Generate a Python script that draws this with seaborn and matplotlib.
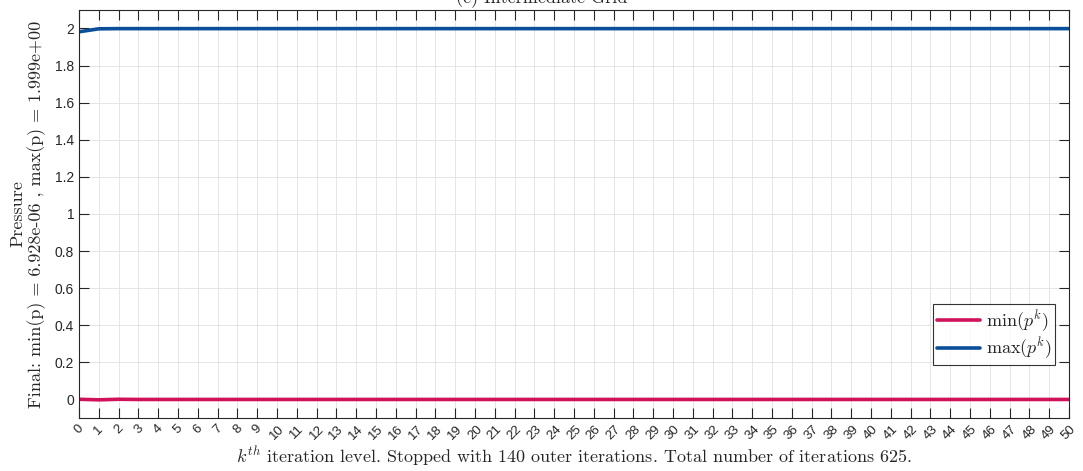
import numpy as np
import pandas as pd
import matplotlib
matplotlib.use('AGG')
import matplotlib.pyplot as plt
import seaborn as sns

# values
iterations = list(range(0, 51))
max_p = [1.982, 1.998] + [1.999] * 49
min_p = [0.001, -0.002, 0.001] + [0.0] * 48
series_names = [r'$\min(p^k)$', r'$\max(p^k)$']
series_colors = ['#D1115A', '#0B4F9A']

title_text = '(c) Intermediate Grid'
xlabel_text = r'$k^{th}$ iteration level. Stopped with 140 outer iterations. Total number of iterations 625.'
ylabel_text = 'Pressure\nFinal: min(p) = 6.928e-06 , max(p) = 1.999e+00'

df = pd.DataFrame({
    'iteration': iterations * 2,
    'value': min_p + max_p,
    'series': [series_names[0]] * len(min_p) + [series_names[1]] * len(max_p),
})

sns.set_style('whitegrid')
plt.rcParams['mathtext.fontset'] = 'cm'
plt.rcParams['font.family'] = ['Liberation Sans', 'DejaVu Sans']

fig = plt.figure(figsize=(10.83, 4.71), dpi=100)
ax = fig.add_axes([0.073, 0.1125, 0.914, 0.8665])

sns.lineplot(data=df, x='iteration', y='value', hue='series', hue_order=series_names,
             palette=series_colors, linewidth=2.6, ax=ax)

ax.set_xlim(0, 50)
ax.set_ylim(-0.1, 2.1)
ax.set_xticks(iterations)
ax.set_xticklabels([str(i) for i in iterations], rotation=45, fontsize=9.5)
ax.set_yticks(np.arange(0, 2.01, 0.2))
ax.set_yticklabels(['0', '0.2', '0.4', '0.6', '0.8', '1', '1.2', '1.4', '1.6', '1.8', '2'], fontsize=10)
ax.tick_params(direction='in', length=7, width=0.8, top=True, right=True,
               bottom=True, left=True, color='#262626')
ax.grid(True, color='#e0e0e0', linewidth=0.6)
for sp in ax.spines.values():
    sp.set_color('#262626')
    sp.set_linewidth(0.8)

ax.set_xlabel(xlabel_text, family='cmr10', fontsize=13, labelpad=2)
ax.set_ylabel(ylabel_text, family='cmr10', fontsize=13, labelpad=6, linespacing=1.15)

leg = ax.legend(loc='lower right', bbox_to_anchor=(0.995, 0.108), fontsize=13,
                frameon=True, fancybox=False, edgecolor='black', handlelength=2.4,
                borderpad=0.2, labelspacing=0.1, handletextpad=0.3)
leg.get_frame().set_linewidth(0.8)

fig.text(0.5, 1.002, title_text, ha='center', va='center', family='cmr10', fontsize=13)

fig.savefig('out.png', dpi=100)
plt.close(fig)
